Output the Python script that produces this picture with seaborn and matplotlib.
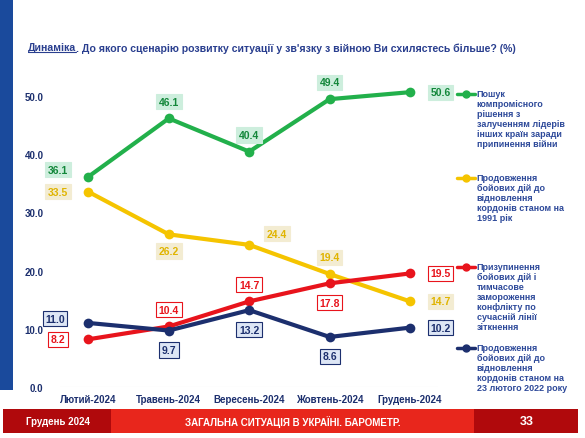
import matplotlib
matplotlib.use("Agg")
import matplotlib.pyplot as plt
import seaborn as sns
import pandas as pd
from matplotlib.patches import Rectangle

months = ["Лютий-2024", "Травень-2024", "Вересень-2024", "Жовтень-2024", "Грудень-2024"]
compromise = [36.1, 46.1, 40.4, 49.4, 50.6]
war_1991 = [33.5, 26.2, 24.4, 19.4, 14.7]
freeze = [8.2, 10.4, 14.7, 17.8, 19.5]
war_2022 = [11.0, 9.7, 13.2, 8.6, 10.2]
names = ["Пошук\nкомпромісного\nрішення з\nзалученням лідерів\nінших країн заради\nприпинення війни",
         "Продовження\nбойових дій до\nвідновлення\nкордонів станом на\n1991 рік",
         "Призупинення\nбойових дій і\nтимчасове\nзамороження\nконфлікту по\nсучасній лінії\nзіткнення",
         "Продовження\nбойових дій до\nвідновлення\nкордонів станом на\n23 лютого 2022 року"]
series = [compromise, war_1991, freeze, war_2022]

sns.set_theme(style="white")
plt.rcParams['font.family'] = ['Liberation Sans', 'DejaVu Sans']

colors = ["#22b04b", "#f5c400", "#e8141c", "#1c2f6e"]
boxfc = ["#cdeedd", "#f3ecd2", "#ffffff", "#dde6f5"]
txtc = ["#13873a", "#e0b400", "#e8141c", "#1c2f6e"]
offsets = [
    [(-22, 5), (0, 12), (0, 12), (0, 12), (22, 0)],
    [(-22, 0), (0, -12), (20, 8), (0, 12), (22, 0)],
    [(-22, 0), (0, 12), (0, 12), (0, -14), (22, 0)],
    [(-24, 3), (0, -14), (0, -14), (0, -14), (22, 0)],
]

rows = []
for n, s in zip(names, series):
    for m, v in zip(months, s):
        rows.append(dict(month=m, value=v, series=n))
df = pd.DataFrame(rows)

fig = plt.figure(figsize=(5.85, 4.39), dpi=100)
fig.patch.set_facecolor("white")
ax = fig.add_axes([0.103, 0.116, 0.646, 0.697])
sns.lineplot(data=df, x="month", y="value", hue="series", palette=colors,
             marker="o", markersize=7, markeredgewidth=0, linewidth=3, ax=ax, legend=False, sort=False)
ax.set_xlim(-0.35, 4.35)
ax.set_ylim(0, 52.5)
ax.set_yticks([0, 10, 20, 30, 40, 50])
ax.set_yticklabels([f"{t:.1f}" for t in [0, 10, 20, 30, 40, 50]], fontsize=7, fontweight="bold", color="#1c2f6e")
ax.set_xticks(range(5))
ax.set_xticklabels(months, fontsize=7, fontweight="bold", color="#1c2f6e")
ax.tick_params(axis="x", length=0, pad=5)
ax.tick_params(axis="y", length=0, pad=12)
ax.set_xlabel("")
ax.set_ylabel("")
for sp in ax.spines.values():
    sp.set_visible(False)
ax.axhline(0, color="#dddddd", lw=0.8, zorder=0)

for i, s in enumerate(series):
    for j, v in enumerate(s):
        ax.annotate(f"{v:.1f}", (j, v), xytext=offsets[i][j], textcoords="offset points",
                    ha="center", va="center", fontsize=7.5, fontweight="bold", color=txtc[i],
                    bbox=dict(boxstyle="square,pad=0.25", fc=boxfc[i], ec=colors[i] if i >= 2 else boxfc[i], lw=0.8))

# legend
leg_y = [0.783, 0.592, 0.39, 0.205]
for i, n in enumerate(names):
    fig.add_artist(plt.Line2D([0.782, 0.812], [leg_y[i], leg_y[i]], color=colors[i], lw=2.5))
    fig.add_artist(plt.Line2D([0.797], [leg_y[i]], color=colors[i], marker="o", markersize=5))
    fig.text(0.815, leg_y[i] + 0.012, n, fontsize=6.5, fontweight="bold", color="#2e4a9a",
             va="top", ha="left", linespacing=1.15)

# title
t1 = fig.text(0.048, 0.89, "Динаміка", fontsize=7.6, fontweight="bold", color="#2a3f8f", ha="left", va="center")
fig.canvas.draw()
bb = t1.get_window_extent().transformed(fig.transFigure.inverted())
fig.add_artist(plt.Line2D([bb.x0, bb.x1], [bb.y0, bb.y0], color="#2a3f8f", lw=0.8))
fig.text(bb.x1, 0.89, ". До якого сценарію розвитку ситуації у зв'язку з війною Ви схилястесь більше? (%)",
         fontsize=7.6, fontweight="bold", color="#2a3f8f", ha="left", va="center")

# decorations
fig.add_artist(Rectangle((0.0, 0.11), 0.022, 0.89, transform=fig.transFigure, fc="#1a4a9c", ec="none"))
fig.add_artist(Rectangle((0.005, 0.012), 0.983, 0.055, transform=fig.transFigure, fc="#e8261c", ec="none"))
fig.add_artist(Rectangle((0.005, 0.012), 0.185, 0.055, transform=fig.transFigure, fc="#b0090c", ec="none"))
fig.add_artist(Rectangle((0.81, 0.012), 0.178, 0.055, transform=fig.transFigure, fc="#b0090c", ec="none"))
fig.text(0.045, 0.039, "Грудень 2024", fontsize=7, fontweight="bold", color="white", va="center")
fig.text(0.5, 0.039, "ЗАГАЛЬНА СИТУАЦІЯ В УКРАЇНІ. БАРОМЕТР.", fontsize=7, fontweight="bold", color="white", va="center", ha="center")
fig.text(0.9, 0.039, "33", fontsize=9, fontweight="bold", color="white", va="center", ha="center")

fig.savefig("out.png", dpi=100)
